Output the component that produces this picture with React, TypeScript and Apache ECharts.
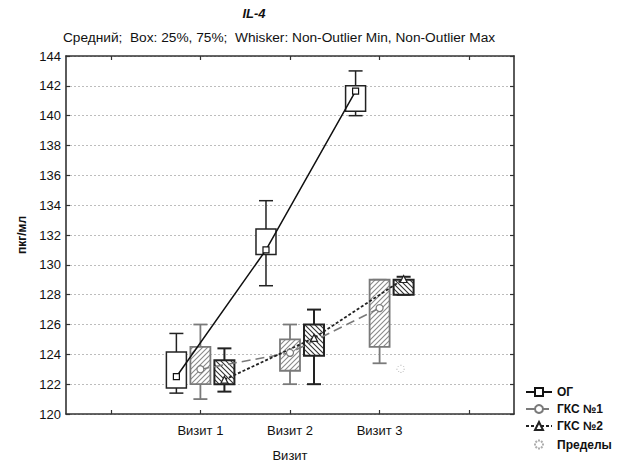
import React, { useEffect, useRef } from 'react';
import * as echarts from 'echarts';

// ---- data ----
const categories = ['', 'Визит 1', 'Визит 2', 'Визит 3', ''];
const seriesNames = ['ОГ', 'ГКС №1', 'ГКС №2'];
const limitsName = 'Пределы';
const yTicks = { min: 120, max: 144, interval: 2 };

// per visit 1..3 : [nonOutlierMin, Q25, Q75, nonOutlierMax]
const ogBox = [
  [121.4, 121.75, 124.15, 125.4],
  [128.6, 130.7, 132.4, 134.3],
  [140.0, 140.3, 142.0, 143.0],
];
const gks1Box = [
  [121.0, 122.0, 124.5, 126.0],
  [122.0, 122.9, 125.0, 126.0],
  [123.4, 124.5, 129.0, 129.0],
];
const gks2Box = [
  [121.5, 122.0, 123.6, 124.4],
  [122.0, 123.9, 126.0, 127.0],
  [128.0, 128.0, 129.0, 129.2],
];
const ogMean = [122.5, 131.0, 141.65];
const gks1Mean = [123.0, 124.1, 127.1];
const gks2Mean = [122.3, 125.1, 129.05];
// limits marker: [visit index (1-based), value]
const limitsPoints = [[3, 123.0]];

// ---- styling ----
const OFFSETS = [-0.268, 0, 0.268];
const BOX_COLORS = ['#222222', '#7a7a7a', '#222222'];
const BOX_LW = [1.5, 1.8, 2];

function makeHatch(color: string, dir: 'up' | 'down', size: number) {
  const c = document.createElement('canvas');
  c.width = size;
  c.height = size;
  const ctx = c.getContext('2d')!;
  ctx.fillStyle = '#ffffff';
  ctx.fillRect(0, 0, size, size);
  ctx.strokeStyle = color;
  ctx.lineWidth = 1.1;
  ctx.beginPath();
  if (dir === 'up') {
    ctx.moveTo(0, size); ctx.lineTo(size, 0);
    ctx.moveTo(-1, 1); ctx.lineTo(1, -1);
    ctx.moveTo(size - 1, size + 1); ctx.lineTo(size + 1, size - 1);
  } else {
    ctx.moveTo(0, 0); ctx.lineTo(size, size);
    ctx.moveTo(-1, size - 1); ctx.lineTo(1, size + 1);
    ctx.moveTo(size - 1, -1); ctx.lineTo(size + 1, 1);
  }
  ctx.stroke();
  return { image: c.toDataURL(), repeat: 'repeat', imageWidth: size, imageHeight: size } as any;
}

export default function App() {
  const ref = useRef<HTMLDivElement>(null);

  useEffect(() => {
    if (!ref.current) return;
    const chart = echarts.init(ref.current, undefined, { renderer: 'svg' });
    const fills = ['#ffffff', makeHatch('#8a8a8a', 'up', 5), makeHatch('#333333', 'down', 5)];
    const boxes = [ogBox, gks1Box, gks2Box];
    const means = [ogMean, gks1Mean, gks2Mean];

    const boxSeries = boxes.map((arr, g) => ({
      type: 'custom',
      name: seriesNames[g] + ' box',
      xAxisIndex: 2,
      yAxisIndex: 0,
      z: 2,
      silent: true,
      data: arr.map((b, i) => [i + 1 + OFFSETS[g], ...b]),
      renderItem: (params: any, api: any) => {
        const x = api.value(0);
        const pMin = api.coord([x, api.value(1)]);
        const pQ1 = api.coord([x, api.value(2)]);
        const pQ3 = api.coord([x, api.value(3)]);
        const pMax = api.coord([x, api.value(4)]);
        const cx = pMin[0];
        const hw = 10;
        const cap = 7;
        const stroke = BOX_COLORS[g];
        const lw = BOX_LW[g];
        const ls = { stroke, lineWidth: lw };
        return {
          type: 'group',
          children: [
            { type: 'line', shape: { x1: cx, y1: pMax[1], x2: cx, y2: pQ3[1] }, style: ls },
            { type: 'line', shape: { x1: cx, y1: pQ1[1], x2: cx, y2: pMin[1] }, style: ls },
            { type: 'line', shape: { x1: cx - cap, y1: pMax[1], x2: cx + cap, y2: pMax[1] }, style: ls },
            { type: 'line', shape: { x1: cx - cap, y1: pMin[1], x2: cx + cap, y2: pMin[1] }, style: ls },
            {
              type: 'rect',
              shape: { x: cx - hw, y: pQ3[1], width: hw * 2, height: pQ1[1] - pQ3[1] },
              style: { fill: fills[g], stroke, lineWidth: lw },
            },
          ],
        };
      },
    }));

    const lineStyles = [
      { color: '#111111', width: 1.5, type: 'solid' },
      { color: '#7a7a7a', width: 1.5, type: [9, 5] },
      { color: '#222222', width: 1.8, type: [3, 2] },
    ];
    const symbols = ['rect', 'circle', 'triangle'];
    const symbolSizes = [6, 7, 7];

    const meanSeries = means.map((arr, g) => ({
      type: 'line',
      name: seriesNames[g],
      xAxisIndex: 2,
      yAxisIndex: 0,
      z: 4,
      data: arr.map((v, i) => [i + 1 + OFFSETS[g], v]),
      symbol: symbols[g],
      symbolSize: symbolSizes[g],
      showAllSymbol: true,
      lineStyle: lineStyles[g],
      itemStyle: { color: '#ffffff', borderColor: lineStyles[g].color, borderWidth: 1.2 },
      emphasis: { disabled: true },
    }));

    const starPath =
      'path://M5,0L5,2M5,8L5,10M0,5L2,5M8,5L10,5M1.5,1.5L3,3M7,7L8.5,8.5M8.5,1.5L7,3M3,7L1.5,8.5';

    const limitsSeries = {
      type: 'scatter',
      name: limitsName,
      xAxisIndex: 2,
      yAxisIndex: 0,
      z: 4,
      symbol: starPath,
      symbolSize: 9,
      data: limitsPoints.map(([vi, v]) => [vi + OFFSETS[2] - 0.03, v]),
      itemStyle: { color: 'none', borderColor: '#9a9a9a', borderWidth: 1, borderType: [1, 1] },
    };

    const font = 'Liberation Sans, Arial, sans-serif';
    const axisLine = { show: true, onZero: false, lineStyle: { color: '#333', width: 1.6 } };
    const axisTick = { show: true, inside: true, length: 4, lineStyle: { color: '#333', width: 1.2 } };

    chart.setOption({
      animation: false,
      grid: { left: 66, right: 108, top: 56, bottom: 46 },
      graphic: [
        {
          type: 'text', x: 254, y: 7,
          style: { text: 'IL-4', font: 'italic bold 13px ' + font, fill: '#111', textAlign: 'center' },
        },
        {
          type: 'text', x: 279, y: 30,
          style: {
            text: 'Средний;  Box: 25%, 75%;  Whisker: Non-Outlier Min, Non-Outlier Max',
            font: '13.7px ' + font, fill: '#111', textAlign: 'center',
          },
        },
      ],
      legend: {
        orient: 'vertical',
        left: 520,
        top: 381,
        itemGap: 5,
        itemWidth: 26,
        itemHeight: 10,
        selectedMode: false,
        textStyle: { fontFamily: font, fontWeight: 'bold', fontSize: 12, color: '#111' },
        data: [...seriesNames, limitsName],
      },
      xAxis: [
        {
          type: 'category',
          data: categories,
          position: 'bottom',
          boundaryGap: true,
          name: 'Визит',
          nameLocation: 'middle',
          nameGap: 35,
          nameTextStyle: { fontFamily: font, fontSize: 13, color: '#111' },
          axisLine,
          axisTick: { ...axisTick, alignWithLabel: true },
          axisLabel: { fontFamily: font, fontSize: 13, color: '#111', margin: 10, interval: 0 },
          splitLine: { show: false },
        },
        {
          type: 'category',
          data: categories,
          position: 'top',
          boundaryGap: true,
          axisLine,
          axisTick: { ...axisTick, alignWithLabel: true },
          axisLabel: { show: false },
          splitLine: { show: false },
        },
        {
          type: 'value',
          min: -0.5,
          max: 4.5,
          show: false,
          axisLine: { show: false, onZero: false },
          splitLine: { show: false },
        },
      ],
      yAxis: [
        {
          type: 'value',
          min: yTicks.min,
          max: yTicks.max,
          interval: yTicks.interval,
          position: 'left',
          name: 'пкг/мл',
          nameLocation: 'middle',
          nameGap: 38,
          nameRotate: 90,
          nameTextStyle: { fontFamily: font, fontSize: 12, fontWeight: 'bold', color: '#111' },
          axisLine,
          axisTick,
          axisLabel: { fontFamily: font, fontSize: 13, color: '#111', margin: 5 },
          splitLine: { show: true, lineStyle: { color: '#bdbdbd', type: [2, 2], width: 1 } },
        },
        {
          type: 'value',
          min: yTicks.min,
          max: yTicks.max,
          interval: yTicks.interval,
          position: 'right',
          axisLine,
          axisTick,
          axisLabel: { show: false },
          splitLine: { show: false },
        },
      ],
      series: [...boxSeries, ...meanSeries, limitsSeries],
    } as any);

    return () => chart.dispose();
  }, []);

  return (
    <div
      ref={ref}
      style={{ position: 'fixed', left: 0, top: 0, width: 622, height: 467, background: '#fff' }}
    />
  );
}
